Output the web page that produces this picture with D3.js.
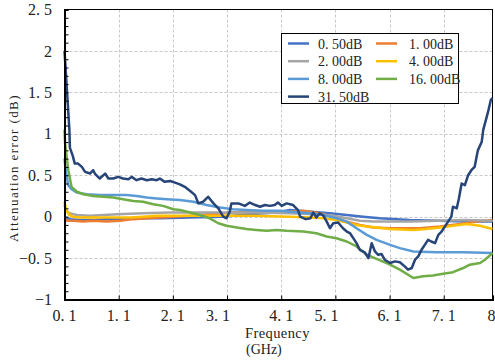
<!DOCTYPE html>
<html>
<head>
<meta charset="utf-8">
<script src="https://cdn.jsdelivr.net/npm/d3@7"></script>
<style>
  html, body { margin: 0; padding: 0; background: #fff; }
  svg { display: block; }
</style>
</head>
<body>
<svg id="chart" width="495" height="360" font-family="'Liberation Serif', 'Times New Roman', serif"></svg>
<script>
// tick labels
const xTicks = [0.1, 1.1, 2.1, 3.1, 4.1, 5.1, 6.1, 7.1, 8];
const xTickLabels = ['0. 1', '1. 1', '2. 1', '3. 1', '4. 1', '5. 1', '6. 1', '7. 1', '8'];
const yTicks = [-1, -0.5, 0, 0.5, 1, 1.5, 2, 2.5];
const yTickLabels = ['\u22121', '\u22120. 5', '0', '0. 5', '1', '1. 5', '2', '2. 5'];

// series names / colours
const seriesNames = ['0. 50dB', '1. 00dB', '2. 00dB', '4. 00dB', '8. 00dB', '16. 00dB', '31. 50dB'];
const seriesColors = ['#4472C4', '#ED7D31', '#A5A5A5', '#FFC000', '#5B9BD5', '#70AD47', '#264478'];

// [GHz, dB]
const s050 = [[0.1,-0.01],[0.21,-0.03],[0.39,-0.04],[0.63,-0.04],[0.88,-0.03],[1.13,-0.03],[1.37,-0.02],[1.86,-0.02],[2.42,-0.01],[3.0,0.0],[3.5,0.03],[4.0,0.05],[4.26,0.08],[4.64,0.06],[5.0,0.04],[5.31,0.02],[5.61,0.0],[5.92,-0.02],[6.23,-0.03],[6.47,-0.04],[7.0,-0.05],[7.5,-0.06],[8,-0.06]];
const s100 = [[0.1,-0.02],[0.14,-0.05],[0.26,-0.05],[0.45,-0.06],[0.63,-0.05],[0.88,-0.06],[1.13,-0.05],[1.37,-0.03],[1.62,-0.02],[1.86,-0.01],[2.11,0.0],[2.42,0.01],[2.8,0.03],[3.2,0.05],[3.7,0.06],[4.26,0.06],[4.51,0.07],[4.81,0.04],[5.06,0.0],[5.31,-0.06],[5.55,-0.10],[5.8,-0.13],[6.11,-0.14],[6.66,-0.14],[7.03,-0.12],[7.4,-0.09],[7.7,-0.06],[8,-0.04]];
const s200 = [[0.1,0.14],[0.13,0.08],[0.19,0.04],[0.33,0.02],[0.57,0.01],[0.82,0.02],[1.07,0.03],[1.55,0.04],[2.05,0.05],[2.42,0.05],[3.0,0.05],[3.6,0.05],[4.26,0.04],[4.75,0.03],[5.06,0.01],[5.31,-0.02],[5.55,-0.05],[5.8,-0.06],[6.47,-0.06],[7.0,-0.05],[7.5,-0.04],[8,-0.05]];
const s400 = [[0.1,0.18],[0.13,0.08],[0.19,0.02],[0.26,0.0],[0.39,-0.01],[1.31,-0.01],[1.55,0.0],[1.8,0.01],[2.42,0.01],[3.0,0.01],[3.6,0.01],[4.26,0.0],[4.64,-0.01],[4.88,-0.02],[5.12,-0.04],[5.31,-0.07],[5.49,-0.10],[5.68,-0.12],[5.86,-0.13],[6.11,-0.15],[6.54,-0.16],[6.78,-0.15],[7.03,-0.13],[7.27,-0.11],[7.52,-0.09],[7.77,-0.11],[8,-0.15]];
const s800 = [[0.1,0.70],[0.13,0.52],[0.17,0.38],[0.23,0.33],[0.33,0.29],[0.51,0.27],[0.75,0.26],[1.25,0.26],[1.43,0.25],[1.62,0.23],[1.8,0.22],[1.99,0.21],[2.23,0.20],[2.48,0.18],[2.72,0.14],[2.97,0.11],[3.21,0.09],[3.46,0.08],[3.77,0.07],[4.08,0.07],[4.26,0.06],[4.64,0.04],[4.88,0.02],[5.12,-0.02],[5.31,-0.06],[5.49,-0.14],[5.68,-0.22],[5.86,-0.28],[6.11,-0.34],[6.29,-0.38],[6.54,-0.42],[6.97,-0.43],[7.46,-0.43],[8,-0.44]];
const s1600 = [[0.1,1.05],[0.11,0.89],[0.17,0.56],[0.23,0.36],[0.33,0.30],[0.45,0.27],[0.63,0.25],[0.82,0.24],[1.0,0.23],[1.18,0.21],[1.37,0.19],[1.55,0.18],[1.74,0.15],[1.92,0.13],[2.11,0.09],[2.23,0.08],[2.42,0.05],[2.6,0.02],[2.78,-0.02],[2.94,-0.08],[3.09,-0.11],[3.28,-0.13],[3.46,-0.15],[3.64,-0.16],[3.83,-0.17],[4.01,-0.16],[4.2,-0.17],[4.51,-0.18],[4.75,-0.20],[4.94,-0.24],[5.12,-0.26],[5.31,-0.30],[5.49,-0.36],[5.68,-0.46],[5.86,-0.51],[6.11,-0.58],[6.29,-0.64],[6.54,-0.74],[6.72,-0.72],[6.9,-0.71],[7.09,-0.69],[7.27,-0.67],[7.46,-0.62],[7.58,-0.58],[7.77,-0.56],[7.86,-0.52],[8,-0.44]];
const s3150 = [[0.1,2.0],[0.19,1.05],[0.2,0.83],[0.25,0.74],[0.29,0.64],[0.35,0.64],[0.42,0.60],[0.48,0.54],[0.57,0.52],[0.63,0.56],[0.66,0.52],[0.75,0.46],[0.85,0.52],[0.91,0.46],[1.0,0.46],[1.09,0.48],[1.18,0.46],[1.28,0.45],[1.34,0.48],[1.43,0.44],[1.52,0.46],[1.62,0.44],[1.71,0.45],[1.8,0.44],[1.86,0.46],[1.95,0.42],[2.05,0.43],[2.14,0.41],[2.23,0.39],[2.32,0.36],[2.42,0.31],[2.51,0.26],[2.57,0.16],[2.66,0.18],[2.75,0.24],[2.85,0.16],[2.94,0.10],[3.03,0.0],[3.09,-0.02],[3.15,0.06],[3.18,0.16],[3.31,0.16],[3.43,0.13],[3.52,0.17],[3.62,0.14],[3.71,0.12],[3.8,0.14],[3.89,0.13],[3.98,0.14],[4.04,0.17],[4.11,0.13],[4.2,0.16],[4.32,0.14],[4.41,0.08],[4.45,0.0],[4.55,-0.03],[4.64,-0.02],[4.69,0.05],[4.75,-0.01],[4.81,0.04],[4.88,0.01],[4.94,-0.06],[5.0,-0.14],[5.06,-0.08],[5.15,-0.07],[5.24,-0.14],[5.31,-0.18],[5.37,-0.20],[5.43,-0.26],[5.49,-0.32],[5.55,-0.40],[5.64,-0.43],[5.71,-0.50],[5.77,-0.32],[5.83,-0.42],[5.89,-0.46],[5.95,-0.45],[6.01,-0.52],[6.11,-0.56],[6.2,-0.54],[6.29,-0.55],[6.38,-0.60],[6.44,-0.64],[6.51,-0.62],[6.57,-0.52],[6.63,-0.48],[6.69,-0.40],[6.75,-0.34],[6.81,-0.28],[6.87,-0.30],[6.94,-0.32],[7.0,-0.22],[7.06,-0.18],[7.12,-0.12],[7.18,-0.06],[7.24,0.0],[7.27,0.12],[7.34,0.10],[7.38,0.22],[7.43,0.40],[7.49,0.38],[7.55,0.50],[7.61,0.56],[7.67,0.60],[7.73,0.80],[7.8,0.90],[7.83,1.05],[7.88,1.17],[7.92,1.27],[7.97,1.41],[8,1.43]];

const seriesData = [s050, s100, s200, s400, s800, s1600, s3150];

const svg = d3.select('#chart');
const FONT = "'Liberation Serif', 'Times New Roman', serif";
const plotL = 64.5, plotR = 492.5, plotT = 9.5, plotB = 299.5;

const x = d3.scaleLinear().domain([0.1, 8]).range([plotL, plotR]);
const y = d3.scaleLinear().domain([-1, 2.5]).range([plotB, plotT]);

// grid
const grid = svg.append('g').attr('stroke', '#c8c8c8').attr('stroke-dasharray', '3,2').attr('stroke-width', 1);
grid.selectAll('.gx').data(xTicks.slice(1, -1)).enter().append('line')
  .attr('x1', d => Math.round(x(d)) + 0.5).attr('x2', d => Math.round(x(d)) + 0.5)
  .attr('y1', plotT).attr('y2', plotB);
grid.selectAll('.gy').data(yTicks.slice(1, -1)).enter().append('line')
  .attr('y1', d => Math.round(y(d)) + 0.5).attr('y2', d => Math.round(y(d)) + 0.5)
  .attr('x1', plotL).attr('x2', plotR);

// frame
svg.append('rect').attr('x', plotL).attr('y', plotT).attr('width', plotR - plotL).attr('height', plotB - plotT)
  .attr('fill', 'none').attr('stroke', '#000').attr('stroke-width', 1);

// series
const line = d3.line().x(d => x(d[0])).y(d => y(d[1]));
const plot = svg.append('g');
seriesData.forEach((s, i) => {
  plot.append('path').datum(s)
    .attr('d', line)
    .attr('fill', 'none')
    .attr('stroke', seriesColors[i])
    .attr('stroke-width', 2.5)
    .attr('stroke-linejoin', 'round');
});

// axes (left & bottom, ticks pointing inwards)
const yMinor = d3.range(-1, 2.5001, 0.1);
svg.append('g').attr('transform', `translate(${plotL},0)`)
  .call(d3.axisRight(y).tickValues(yMinor).tickSize(4).tickFormat(''))
  .call(g => g.select('.domain').attr('stroke-width', 2))
  .call(g => g.selectAll('.tick line').attr('stroke-width', 1));
svg.append('g').attr('transform', `translate(0,${plotB})`)
  .call(d3.axisTop(x).tickValues(xTicks).tickSize(4).tickFormat(''))
  .call(g => g.select('.domain').attr('stroke-width', 2));

// tick labels
const nudge = { 3.1: -9, 5.1: -9, 8: -1 };
svg.append('g').selectAll('text').data(xTicks).enter().append('text')
  .attr('x', d => x(d) + (nudge[d] || 0))
  .attr('y', 321)
  .attr('text-anchor', 'middle')
  .attr('font-family', FONT)
  .attr('font-size', 16)
  .attr('fill', '#222')
  .text((d, i) => xTickLabels[i]);
svg.append('g').selectAll('text').data(yTicks).enter().append('text')
  .attr('x', 52)
  .attr('y', d => y(d))
  .attr('dy', '0.35em')
  .attr('text-anchor', 'end')
  .attr('font-family', FONT)
  .attr('font-size', 16)
  .attr('fill', '#222')
  .text((d, i) => yTickLabels[i]);

// axis titles
svg.append('text')
  .attr('transform', 'translate(18,168) rotate(-90)')
  .attr('text-anchor', 'middle')
  .attr('font-family', FONT)
  .attr('font-size', 13)
  .attr('letter-spacing', 1.4)
  .attr('fill', '#222')
  .text('Attenuation error (dB)');
svg.append('text').attr('x', 245).attr('y', 338).attr('font-family', FONT)
  .attr('font-size', 14.5).attr('letter-spacing', 0.4).attr('fill', '#222').text('Frequency');
svg.append('text').attr('x', 246).attr('y', 354).attr('font-family', FONT)
  .attr('font-size', 14).attr('fill', '#222').text('(GHz)');

// legend
const lg = svg.append('g');
lg.append('rect').attr('x', 281.5).attr('y', 33.5).attr('width', 177).attr('height', 70)
  .attr('fill', '#fff').attr('stroke', '#000').attr('stroke-width', 1);
seriesNames.forEach((name, i) => {
  const col = i % 2, row = Math.floor(i / 2);
  const lx = col ? 376 : 288, ty = 43.5 + row * 17.7;
  lg.append('line').attr('x1', lx).attr('x2', lx + 21).attr('y1', ty).attr('y2', ty)
    .attr('stroke', seriesColors[i]).attr('stroke-width', 2.5);
  lg.append('text').attr('x', col ? 409 : 318).attr('y', ty + 5)
    .attr('font-family', FONT).attr('font-size', 14).attr('fill', '#222').text(name);
});
</script>
</body>
</html>
